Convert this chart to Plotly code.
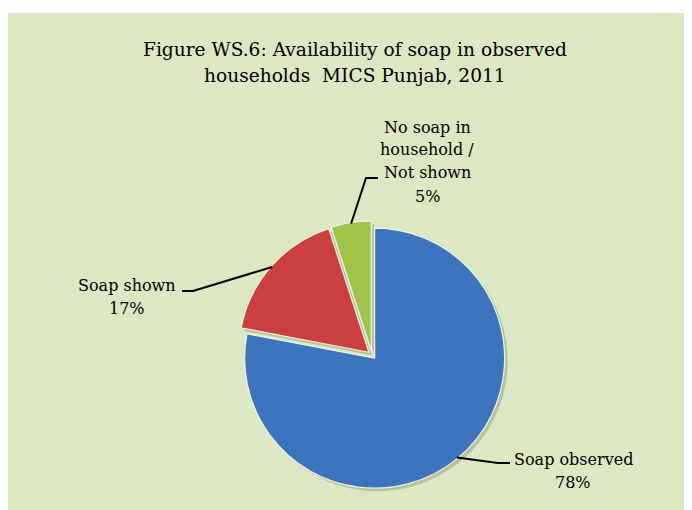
import math
import plotly.graph_objects as go

# ---- data ----
categories = ["Soap observed", "Soap shown", "No soap in household / Not shown"]
label_lines = [["Soap observed"], ["Soap shown"], ["No soap in", "household /", "Not shown"]]
values = [78, 17, 5]
colors = ["#3D74BE", "#C9403E", "#A0C449"]
title_lines = ["Figure WS.6: Availability of soap in observed", "households  MICS Punjab, 2011"]

# ---- layout constants (page pixels; the page body has an 8px margin) ----
PAGE_OFF = 8
W, H = 684, 502
CX, CY = 372, 355      # pie centre on the page
R = 130                # pie radius px
PULL = 0.032
FONT = "DejaVu Serif"
BG = "#DBE8C3"


def px(x):
    return (x - PAGE_OFF) / W


def py(y):
    return 1 - (y - PAGE_OFF) / H


half = R * (1 + PULL)
dom_x = [px(CX - half), px(CX + half)]
dom_y = [py(CY + half), py(CY - half)]

fig = go.Figure()

# soft drop shadow under the pie
sh = 3
fig.add_trace(go.Pie(
    labels=categories, values=values, sort=False, direction="clockwise", rotation=0,
    pull=[PULL] * len(values), textinfo="none", hoverinfo="skip",
    marker=dict(colors=["rgba(70,80,50,0.25)"] * len(values), line=dict(width=0)),
    domain=dict(x=[px(CX - half + sh), px(CX + half + sh)], y=[py(CY + half + sh), py(CY - half + sh)]),
    showlegend=False,
))

fig.add_trace(go.Pie(
    labels=categories, values=values, sort=False, direction="clockwise", rotation=0,
    pull=[PULL] * len(values), textinfo="none",
    marker=dict(colors=colors, line=dict(color="#EEF2E2", width=1.2)),
    domain=dict(x=dom_x, y=dom_y),
    showlegend=False,
))

# label placement (styling): text centre x, first line y, line gap, elbow, stub end
label_x = [573, 127, 427]
label_y0 = [459, 285, 127]
LINE_GAP = 23
elbows = [((498, 463), (510, 463)), ((193, 291), (182, 291)), ((366, 178), (378, 178))]

total = float(sum(values))
cum = 0.0
shapes = [dict(type="rect", xref="paper", yref="paper", x0=px(8), x1=px(685), y0=0, y1=py(13),
               fillcolor=BG, line=dict(width=0), layer="below")]
annotations = []
for i, v in enumerate(values):
    mid = 2 * math.pi * (cum + v / 2) / total
    cum += v
    rr = R * (1 + PULL) - 1
    ax_ = CX + rr * math.sin(mid)
    ay_ = CY - rr * math.cos(mid)
    (ex, ey), (sx, sy) = elbows[i]
    shapes.append(dict(type="path", xref="paper", yref="paper",
                       path=f"M {px(ax_)},{py(ay_)} L {px(ex)},{py(ey)} L {px(sx)},{py(sy)}",
                       line=dict(color="black", width=2)))
    pct = round(100 * v / total)
    lines = label_lines[i] + [f"{pct}%"]
    for k, ln in enumerate(lines):
        annotations.append(dict(x=px(label_x[i]), y=py(label_y0[i] + k * LINE_GAP),
                                xref="paper", yref="paper", text=ln,
                                showarrow=False, xanchor="center", yanchor="middle",
                                font=dict(family=FONT, size=16, color="black")))

for k, ln in enumerate(title_lines):
    annotations.append(dict(x=px(355), y=py(49 + k * 26), xref="paper", yref="paper", text=ln,
                            showarrow=False, xanchor="center", yanchor="middle",
                            font=dict(family=FONT, size=18.6, color="black")))

fig.update_layout(
    width=W, height=H, margin=dict(l=0, r=0, t=0, b=0),
    paper_bgcolor="white", plot_bgcolor="white",
    shapes=shapes, annotations=annotations, showlegend=False,
)

fig.write_html("out.html")
